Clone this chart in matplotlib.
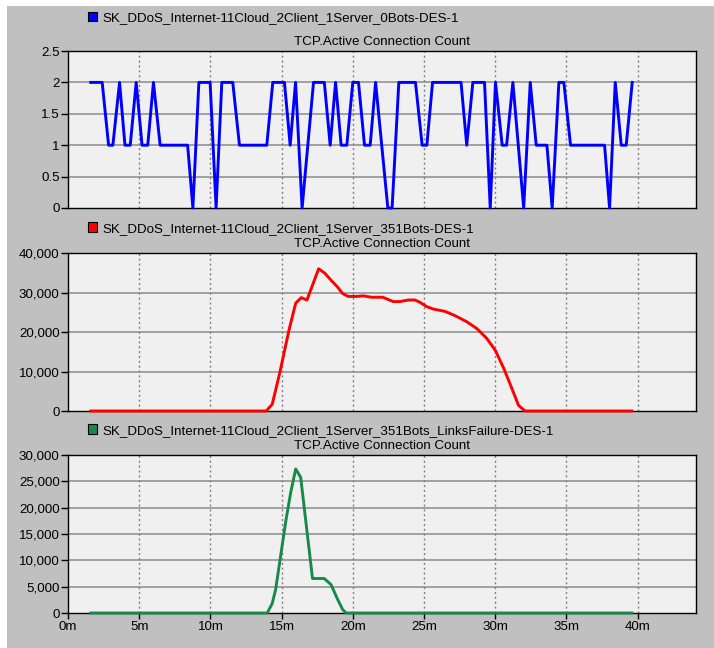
import matplotlib
matplotlib.use("Agg")
import matplotlib.pyplot as plt
from matplotlib.patches import Rectangle, Patch
from matplotlib.ticker import FuncFormatter

plt.rcParams["font.family"] = ["Liberation Sans", "DejaVu Sans"]

# run names and measured statistic
titles = [
    "SK_DDoS_Internet-11Cloud_2Client_1Server_0Bots-DES-1",
    "SK_DDoS_Internet-11Cloud_2Client_1Server_351Bots-DES-1",
    "SK_DDoS_Internet-11Cloud_2Client_1Server_351Bots_LinksFailure-DES-1",
]
stat_name = "TCP.Active Connection Count"

# time in minutes, value = active connections
t_base = [1.6, 2.4, 2.85, 3.15, 3.62, 4.0, 4.37, 4.79, 5.2, 5.6, 6.0, 6.47,
          8.4, 8.77, 9.19, 9.98, 10.4, 10.8, 11.57, 12.04, 13.96, 14.38,
          15.2, 15.6, 15.98, 16.44, 17.24, 18.0, 18.41, 18.79, 19.18, 19.58,
          20.0, 20.4, 20.82, 21.22, 21.6, 22.46, 22.76, 23.23, 24.4, 24.87,
          25.2, 25.6, 27.6, 28.0, 28.43, 29.25, 29.65, 30.02, 30.49, 30.8,
          31.24, 32.0, 32.46, 32.88, 33.63, 34.0, 34.47, 34.82, 35.29, 37.68,
          38.03, 38.43, 38.85, 39.2, 39.62]
v_base = [2, 2, 1, 1, 2, 1, 1, 2, 1, 1, 2, 1,
          1, 0, 2, 2, 0, 2, 2, 1, 1, 2,
          2, 1, 2, 0, 2, 2, 1, 2, 1, 1,
          2, 2, 1, 1, 2, 0, 0, 2, 2, 1,
          1, 2, 2, 1, 2, 2, 0, 2, 1, 1,
          2, 0, 2, 1, 1, 0, 2, 2, 1, 1,
          0, 2, 1, 1, 2]

t_bots = [1.6, 13.92, 14.34, 14.86, 15.52, 15.99, 16.38, 16.78, 17.6, 18.03,
          18.5, 18.9, 19.27, 19.67, 20.26, 20.73, 21.3, 22.1, 22.84, 23.3,
          23.9, 24.37, 24.72, 25.2, 25.66, 26.5, 27.2, 28.0, 28.7, 29.4,
          30.0, 30.6, 31.17, 31.64, 32.1, 39.6]
v_bots = [0, 0, 1700, 9500, 20500, 27300, 28700, 28100, 36000, 34900,
          33000, 31500, 29800, 29000, 29000, 29150, 28800, 28800, 27700, 27700,
          28100, 28100, 27500, 26400, 25800, 25200, 24100, 22600, 20900, 18400,
          15400, 10800, 5700, 1400, 0, 0]

t_fail = [1.6, 13.99, 14.34, 14.58, 14.93, 15.28, 15.64, 15.99, 16.34, 17.17,
          17.99, 18.47, 18.94, 19.29, 19.53, 39.6]
v_fail = [0, 0, 1800, 4450, 10800, 17200, 22900, 27350, 25760, 6550,
          6550, 5400, 2550, 640, 0, 0]

colors = ["#0000ff", "#ff0000", "#178a48"]
y_ticks = [
    [0, 0.5, 1, 1.5, 2, 2.5],
    [0, 10000, 20000, 30000, 40000],
    [0, 5000, 10000, 15000, 20000, 25000, 30000],
]
x_ticks = [0, 5, 10, 15, 20, 25, 30, 35, 40]

W, H = 714, 648
fig = plt.figure(figsize=(W / 100, H / 100), dpi=100, facecolor="white")
fig.add_artist(Rectangle((7 / W, 0), 1, 1 - 6 / H, transform=fig.transFigure,
                         facecolor="#c0c0c0", edgecolor="none", zorder=-10))

# panel boxes in pixels: (top, bottom), and legend offset above the box
panels = [(51, 208), (253, 411), (455, 613)]
legend_gap = [33, 24.5, 24.5]
left, right = 68, 696
series = [(t_base, v_base), (t_bots, v_bots), (t_fail, v_fail)]


def fmt_y(v, pos):
    if v == int(v):
        return f"{int(v):,}"
    return f"{v:g}"


for i, ((top, bot), (tx, vy)) in enumerate(zip(panels, series)):
    ax = fig.add_axes([left / W, 1 - bot / H, (right - left) / W, (bot - top) / H])
    ax.set_facecolor("#f0f0f0")
    ax.plot(tx, vy, color=colors[i], lw=2.1, zorder=3, clip_on=False)
    ax.set_xlim(0, 44.1)
    ax.set_ylim(y_ticks[i][0], y_ticks[i][-1])
    ax.set_yticks(y_ticks[i])
    ax.yaxis.set_major_formatter(FuncFormatter(fmt_y))
    ax.set_xticks(x_ticks)
    for y in y_ticks[i][1:-1]:
        ax.axhline(y, color="#a0a0a0", lw=1.4, zorder=1)
    for x in x_ticks[1:]:
        ax.axvline(x, color="#808080", lw=1.0, ls=(0, (1.5, 2)), zorder=1)
    for s in ax.spines.values():
        s.set_color("black")
        s.set_linewidth(1.0)
    ax.tick_params(axis="y", length=5, width=1, pad=1, labelsize=9.6)
    if i == 2:
        ax.set_xticklabels([f"{x}m" for x in x_ticks])
        ax.tick_params(axis="x", length=4, width=1, pad=2, labelsize=9.6)
    else:
        ax.tick_params(axis="x", length=0, labelbottom=False)

    ax.annotate(stat_name, xy=(0.5, 1), xycoords="axes fraction",
                xytext=(0, 6.3), textcoords="offset points",
                ha="center", va="center", fontsize=9.6)
    h = bot - top
    ax.legend(handles=[Patch(facecolor=colors[i], edgecolor="black", lw=0.8)],
              labels=[titles[i]], loc="center left",
              bbox_to_anchor=(20 / (right - left), 1 + legend_gap[i] / h),
              frameon=False, borderpad=0, borderaxespad=0,
              handlelength=0.7, handleheight=0.7, handletextpad=0.35,
              fontsize=9.6)

fig.savefig("out.png", dpi=100, facecolor=fig.get_facecolor())
